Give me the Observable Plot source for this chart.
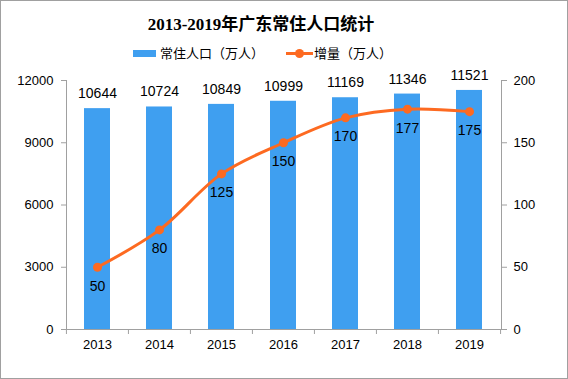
<!DOCTYPE html>
<html>
<head>
<meta charset="utf-8">
<script src="https://cdn.jsdelivr.net/npm/d3@7"></script>
<script src="https://cdn.jsdelivr.net/npm/@observablehq/plot@0.6"></script>
<style>
  html, body { margin: 0; padding: 0; background: #fff; }
  #wrap { position: relative; width: 568px; height: 379px; box-sizing: border-box; border: 1px solid #a0a0a0; overflow: hidden; background:#fff; }
  #header { position: relative; height: 65px; }
  #title { position: absolute; left: 0; top: 2px; width: 520px; height: 44px; line-height: 44px; text-align: center;
           font-family: "Liberation Serif", "Noto Sans CJK SC", serif; font-weight: bold; font-size: 17px; color: #000; }
  .lg { position: absolute; font-family: "Noto Sans CJK SC", sans-serif; font-size: 13px; line-height: 16px; color: #000; top: 44px; }
  .sw { position: absolute; }
</style>
</head>
<body>
<div id="wrap">
  <div id="header">
    <div id="title"></div>
    <div class="sw" id="sw1"></div>
    <div class="lg" id="lg1"></div>
    <div class="sw" id="sw2"></div>
    <div class="sw" id="sw2dot"></div>
    <div class="lg" id="lg2"></div>
  </div>
  <div id="chart"></div>
</div>
<script>
const titleText = "2013-2019年广东常住人口统计";
const seriesNames = ["常住人口（万人）", "增量（万人）"];
const years = [2013, 2014, 2015, 2016, 2017, 2018, 2019];
const population = [10644, 10724, 10849, 10999, 11169, 11346, 11521];
const increase = [50, 80, 125, 150, 170, 177, 175];
const leftTicks = [0, 3000, 6000, 9000, 12000];
const rightTicks = [0, 50, 100, 150, 200];

const blue = "#3f9ff0";
const orange = "#fd6a21";
const gray = "#a0a0a0";
const ratio = leftTicks[leftTicks.length - 1] / rightTicks[rightTicks.length - 1];

const data = years.map((year, i) => ({year, population: population[i], increase: increase[i]}));

// header
document.getElementById("title").textContent = titleText;
const sw1 = document.getElementById("sw1");
Object.assign(sw1.style, {left: "132px", top: "49px", width: "23px", height: "7px", background: blue});
const lg1 = document.getElementById("lg1");
lg1.textContent = seriesNames[0]; lg1.style.left = "159px";
const sw2 = document.getElementById("sw2");
Object.assign(sw2.style, {left: "285px", top: "51px", width: "27px", height: "3px", background: orange});
const sw2dot = document.getElementById("sw2dot");
Object.assign(sw2dot.style, {left: "294px", top: "48px", width: "9px", height: "9px", borderRadius: "50%", background: orange});
const lg2 = document.getElementById("lg2");
lg2.textContent = seriesNames[1]; lg2.style.left = "313px";

const W = 566, H = 312, mL = 65, mR = 66, mT = 14, mB = 49;
const step = (W - mL - mR) / years.length;

const chart = Plot.plot({
  width: W, height: H,
  marginLeft: mL, marginRight: mR, marginTop: mT, marginBottom: mB,
  style: {fontFamily: "Liberation Sans, sans-serif", fontSize: "13px", color: "#000", background: "transparent", overflow: "visible"},
  x: {type: "band", domain: years, paddingInner: 0.58, paddingOuter: 0.29},
  y: {domain: [0, 12000]},
  marks: [
    Plot.barY(data, {x: "year", y: "population", fill: blue}),
    Plot.text(data, {x: "year", y: "population", text: d => String(d.population), dy: -15, fontSize: 14, fill: "#000"}),
    Plot.line(data, {x: "year", y: d => d.increase * ratio, stroke: orange, strokeWidth: 3, curve: "catmull-rom"}),
    Plot.dot(data, {x: "year", y: d => d.increase * ratio, r: 4.5, fill: orange, stroke: "none"}),
    Plot.text(data, {x: "year", y: d => d.increase * ratio, text: d => String(d.increase), dy: 19, fontSize: 14, fill: "#000"}),
    Plot.axisY({ticks: leftTicks, tickSize: 5, tickPadding: 8, label: null, stroke: gray, fill: "#000", tickFormat: d => String(d)}),
    Plot.axisY({anchor: "right", ticks: rightTicks.map(d => d * ratio), tickFormat: d => String(d / ratio), tickSize: 5, tickPadding: 7, label: null, stroke: gray, fill: "#000"}),
    Plot.axisX({tickSize: 0, tickPadding: 10, label: null, fill: "#000", tickFormat: d => String(d)}),
    Plot.axisX({tickSize: 5, text: null, label: null, stroke: gray, dx: -step / 2}),
    Plot.axisX({ticks: [years[years.length - 1]], tickSize: 5, text: null, label: null, stroke: gray, dx: step / 2}),
    Plot.frame({anchor: "left", stroke: gray}),
    Plot.frame({anchor: "right", stroke: gray}),
    Plot.frame({anchor: "bottom", stroke: gray})
  ]
});
document.getElementById("chart").appendChild(chart);
</script>
</body>
</html>
